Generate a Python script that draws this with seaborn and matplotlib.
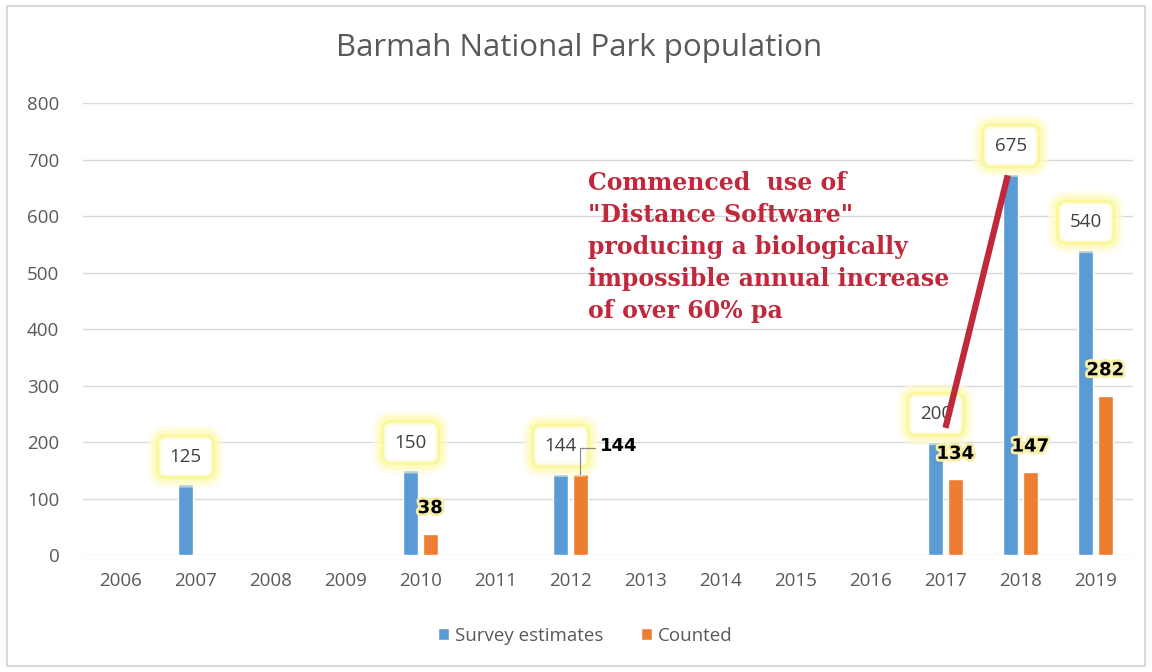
import matplotlib
matplotlib.use("Agg")
import matplotlib.pyplot as plt
import matplotlib.patheffects as pe
from matplotlib.patches import Rectangle
import numpy as np
import pandas as pd
import seaborn as sns

# ---- data -------------------------------------------------------------
years = [2006, 2007, 2008, 2009, 2010, 2011, 2012, 2013, 2014, 2015, 2016, 2017, 2018, 2019]
survey_estimates = [np.nan, 125, np.nan, np.nan, 150, np.nan, 144, np.nan, np.nan, np.nan, np.nan, 200, 675, 540]
counted = [np.nan, np.nan, np.nan, np.nan, 38, np.nan, 144, np.nan, np.nan, np.nan, np.nan, 134, 147, 282]
series_names = ["Survey estimates", "Counted"]
y_ticks = [0, 100, 200, 300, 400, 500, 600, 700, 800]
title = "Barmah National Park population"
note = ('Commenced  use of\n"Distance Software"\nproducing a biologically\n'
        'impossible annual increase\nof over 60% pa')

BLUE = "#5B9BD5"
ORANGE = "#ED7D31"
GREY_TXT = "#595959"
NOTE_RED = "#C0283C"

df = pd.DataFrame({
    "year": [str(y) for y in years] * 2,
    "value": survey_estimates + counted,
    "series": [series_names[0]] * len(years) + [series_names[1]] * len(years),
})

sns.set_theme(style="white")
plt.rcParams["font.family"] = ["Open Sans", "DejaVu Sans"]

fig = plt.figure(figsize=(11.52, 6.72), dpi=100)
ax = fig.add_axes([0.072, 0.1741, 0.9115, 0.6726])

sns.barplot(data=df, x="year", y="value", hue="series",
            order=[str(y) for y in years], hue_order=series_names,
            palette=[BLUE, ORANGE], width=0.52, gap=0.25,
            saturation=1, legend=True, ax=ax, errorbar=None)

ax.set_ylim(0, 800)
ax.set_xlim(-0.5, len(years) - 0.5)
ax.set_yticks(y_ticks)
ax.set_yticklabels([str(t) for t in y_ticks])
ax.yaxis.grid(True, color="#D9D9D9", linewidth=1)
ax.set_axisbelow(True)
for s in ax.spines.values():
    s.set_visible(False)
ax.tick_params(axis="both", length=0, labelsize=13.5, labelcolor=GREY_TXT)
ax.tick_params(axis="y", pad=17)
ax.tick_params(axis="x", pad=12)
ax.set_xlabel("")
ax.set_ylabel("")

# legend below the plot
handles, labels = ax.get_legend_handles_labels()
ax.get_legend().remove()
fig.legend(handles, labels, loc="center", bbox_to_anchor=(0.508, 0.054), ncol=2,
           frameon=False, fontsize=13.5, handlelength=0.6, handleheight=0.6,
           handletextpad=0.3, columnspacing=2.0, labelcolor=GREY_TXT)

fig.text(0.503, 0.928, title, ha="center", va="center", fontsize=22.5, color=GREY_TXT)

# value labels for the survey estimates: white box with a soft yellow glow
glow_box = [pe.Stroke(linewidth=18, foreground="#FFFDD6", alpha=0.55),
            pe.Stroke(linewidth=12, foreground="#FDFAB0", alpha=0.6),
            pe.Stroke(linewidth=6, foreground="#FBF68C", alpha=0.7),
            pe.Normal()]
for bar in ax.containers[0]:
    h = bar.get_height()
    if np.isnan(h):
        continue
    cx = bar.get_x() + bar.get_width() / 2
    t = ax.text(cx, h + 49, f"{int(h)}", ha="center", va="center", fontsize=13.5,
                color="#404040", zorder=5,
                bbox=dict(boxstyle="round,pad=0.5,rounding_size=0.3", fc="white",
                          ec="#FEFCE0", lw=1.5))
    t.get_bbox_patch().set_path_effects(glow_box)

# value labels for the counts: bold black with a faint yellow halo
glow_txt = [pe.withStroke(linewidth=4, foreground="#F7EEA8")]
for bar in ax.containers[1]:
    h = bar.get_height()
    if np.isnan(h):
        continue
    cx = bar.get_x() + bar.get_width() / 2
    idx = int(round(cx))
    if years[idx] == 2012:
        # label moved aside with a leader line
        ax.plot([cx, cx, cx + 0.2], [h, h + 46, h + 46], color="#8C8C8C", lw=0.9, zorder=6)
        ax.text(cx + 0.26, h + 49, f"{int(h)}", ha="left", va="center", fontsize=13,
                fontweight="bold", color="black", zorder=6, family="DejaVu Sans")
    else:
        ax.text(cx, h + 45, f"{int(h)}", ha="center", va="center", fontsize=13,
                fontweight="bold", color="black", zorder=6, family="DejaVu Sans",
                path_effects=glow_txt)

# annotation
ax.text(6.24, 680, note, ha="left", va="top", fontsize=17, fontweight="bold",
        color=NOTE_RED, family="DejaVu Serif", linespacing=1.42, zorder=6)
ax.plot([11.0, 11.83], [225, 672], color=NOTE_RED, lw=4.5, solid_capstyle="butt", zorder=7)

# outer frame
fig.patches.append(Rectangle((7 / 1152, 6 / 672), 1138 / 1152, 660 / 672,
                             transform=fig.transFigure, fill=False,
                             ec="#D9D9D9", lw=1.5))

fig.savefig("out.png", dpi=100)
